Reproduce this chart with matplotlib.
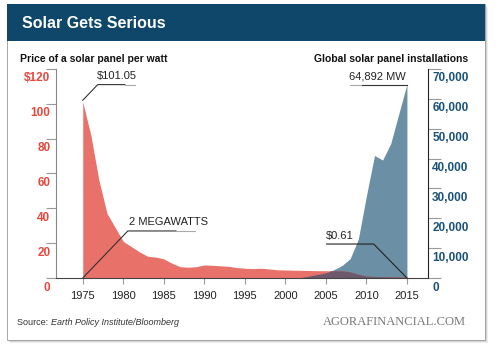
import matplotlib.pyplot as plt
import matplotlib.transforms as mtrans
from matplotlib.patches import Rectangle
import numpy as np

plt.rcParams['font.family'] = ['Liberation Sans', 'DejaVu Sans']

RED = '#e8716a'
BLUE = '#6b8fa4'
PURPLE = '#6c5a6c'
NAVY = '#0e4769'

# price of a solar panel, $ per watt
price_years = np.arange(1975, 2016)
price = [101.05, 82, 56, 37, 29, 21, 18, 15, 12.5, 12, 11, 8.5, 6.5, 6.2, 6.5,
         7.5, 7.3, 7.0, 6.7, 6.0, 5.6, 5.4, 5.6, 5.2, 4.7, 4.6, 4.5, 4.4, 4.3,
         4.2, 4.2, 4.2, 4.2, 3.6, 2.2, 1.2, 0.9, 0.8, 0.7, 0.65, 0.61]

# global installations, MW
mw_years = np.arange(2002, 2016)
mw = [200, 700, 1200, 1700, 2800, 4200, 6500, 13000, 27500, 41000, 39500,
      45000, 55000, 64892]

left_ticks = [0, 20, 40, 60, 80, 100, 120]
left_labels = ['0', '20', '40', '60', '80', '100', '$120']
right_ticks = [0, 10000, 20000, 30000, 40000, 50000, 60000, 70000]
right_labels = ['0', '10,000', '20,000', '30,000', '40,000', '50,000', '60,000', '70,000']
year_ticks = list(range(1975, 2016, 5))

fig = plt.figure(figsize=(5, 3.52), dpi=100)

# card, shadow and title bar
for i, a in enumerate([0.10, 0.15, 0.25]):
    d = (3 - i) / 500
    fig.patches.append(Rectangle((0.014 + d, 0.034 - d * 1.4), 0.956, 0.9545,
                                 transform=fig.transFigure, color='#555', alpha=a, lw=0, zorder=-5))
fig.patches.append(Rectangle((0.014, 0.034), 0.956, 0.9545, transform=fig.transFigure,
                             facecolor='white', edgecolor='#999', lw=0.6, zorder=-4))
fig.patches.append(Rectangle((0.014, 0.8847), 0.956, 0.104, transform=fig.transFigure,
                             facecolor=NAVY, lw=0, zorder=-3))
fig.text(0.044, 0.934, 'Solar Gets Serious', color='white', fontsize=11.5,
         fontweight='bold', va='center', ha='left', zorder=3)

ax = fig.add_axes([0.112, 0.2102, 0.744, 0.594])
ax2 = ax.twinx()
ax.set_zorder(ax2.get_zorder() + 1)
ax.patch.set_visible(False)
ax2.patch.set_visible(False)

ax2.fill_between(mw_years, mw, 0, color=BLUE, lw=0)
ax.fill_between(price_years, price, 0, color=RED, lw=0)

# overlap of the two areas
grid = np.linspace(mw_years[0], mw_years[-1], 400)
p_i = np.interp(grid, price_years, price)
b_i = np.interp(grid, mw_years, mw) * 120 / 70000
ax.fill_between(grid, np.minimum(p_i, b_i), 0, color=PURPLE, lw=0)

ax.set_xlim(1971.7, 2017.6)
ax.set_ylim(0, 120)
ax2.set_ylim(0, 70000)

ax.set_xticks(year_ticks)
ax.set_xticklabels([str(y) for y in year_ticks], fontsize=8, color='#222')
ax.tick_params(axis='x', length=4, color='#999', pad=5)
ax.set_yticks(left_ticks)
ax.set_yticklabels(left_labels, fontsize=8.5, color='#e8473e', fontweight='bold')
ax.tick_params(axis='y', length=7, color='#999', pad=-3)
ax2.set_yticks(right_ticks)
ax2.set_yticklabels(right_labels, fontsize=8.5, color='#1b5279', fontweight='bold')
ax2.tick_params(axis='y', length=9, color='#999', pad=-6)

down = mtrans.ScaledTranslation(0, -8 / 100, fig.dpi_scale_trans)
for lab in ax.get_yticklabels() + ax2.get_yticklabels():
    lab.set_transform(lab.get_transform() + down)

for a_ in (ax, ax2):
    a_.spines['top'].set_visible(False)
ax.spines['left'].set_color('#888')
ax.spines['bottom'].set_color('#444')
ax.spines['right'].set_visible(False)
ax2.spines['right'].set_color('#222')
ax2.spines['left'].set_visible(False)
ax2.spines['bottom'].set_visible(False)
ax2.tick_params(axis='x', length=0)

# annotations (price units)
lc = '#333'
ax.plot([1975, 1976.85, 1980.2], [102, 111, 111], color=lc, lw=0.8, clip_on=False)
ax.plot([1980.2, 1981.4], [111, 111], color='#aaa', lw=0.8, clip_on=False)
ax.text(1979.2, 113, '$101.05', fontsize=8, ha='center', va='bottom', color='#222')

ax.plot([1975, 1980.56, 1986.5], [0, 27, 27], color=lc, lw=0.8, clip_on=False)
ax.plot([1986.5, 1988.8], [27, 27], color='#aaa', lw=0.8, clip_on=False)
ax.text(1980.7, 29, '2 MEGAWATTS', fontsize=8, ha='left', va='bottom', color='#222')

ax.plot([2015, 2010.9, 2005.1], [0, 19.5, 19.5], color='#222', lw=0.8, clip_on=False)
ax.text(2005.0, 21, '$0.61', fontsize=8, ha='left', va='bottom', color='#222')

ax.plot([2008, 2009.5], [111, 111], color='#aaa', lw=0.8, clip_on=False)
ax.plot([2009.5, 2015], [111, 111], color=lc, lw=0.8, clip_on=False)
ax.text(2011.3, 113, '64,892 MW', fontsize=8, ha='center', va='bottom', color='#222')

# axis titles and footer
fig.text(0.04, 0.832, 'Price of a solar panel per watt', fontsize=7.5,
         fontweight='bold', ha='left', va='center', color='#111')
fig.text(0.936, 0.832, 'Global solar panel installations', fontsize=7.5,
         fontweight='bold', ha='right', va='center', color='#111')
src = fig.text(0.034, 0.085, 'Source: ', fontsize=6.5, ha='left', va='center', color='#333')
fig.canvas.draw()
bb = src.get_window_extent()
fig.text(bb.x1 / fig.bbox.width, 0.085, 'Earth Policy Institute/Bloomberg', fontsize=6.5,
         style='italic', ha='left', va='center', color='#333')
fig.text(0.932, 0.085, 'AGORAFINANCIAL.COM', fontsize=9,
         family='Liberation Serif', ha='right', va='center', color='#777')

fig.savefig('out.png', dpi=100)
